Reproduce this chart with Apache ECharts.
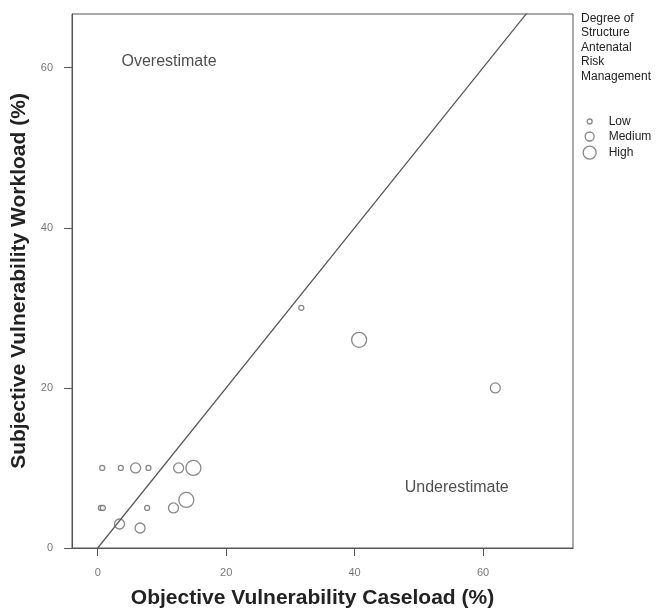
<!DOCTYPE html>
<html>
<head>
    <meta charset="UTF-8">
    <title>Subjective vs Objective Vulnerability</title>
    <script src="https://cdn.jsdelivr.net/npm/echarts/dist/echarts.min.js"></script>
    <style>
        html, body { margin: 0; padding: 0; background: #fff; }
        #chart { width: 667px; height: 609px; }
    </style>
</head>
<body>
    <div id="chart"></div>
    <script>
        // data: [objective caseload %, subjective workload %]
        var lowPoints = [[0.7, 10], [3.6, 10], [7.9, 10], [0.5, 5], [0.8, 5], [7.7, 5], [31.7, 30]];
        var mediumPoints = [[5.9, 10], [12.6, 10], [11.8, 5], [3.4, 3], [6.6, 2.5], [61.9, 20]];
        var highPoints = [[14.9, 10], [13.8, 6], [40.7, 26]];
        var refLine = [[0, 0], [80, 80]];
        var xTicks = [0, 20, 40, 60];
        var yTicks = [0, 20, 40, 60];
        var labelsOver = [[3.7, 60.8, 'Overestimate']];
        var labelsUnder = [[47.8, 7.5, 'Underestimate']];

        var font = '"Liberation Sans", Arial, sans-serif';
        var ring = { color: '#fff', borderColor: '#6a6a6a', borderWidth: 1.3 };

        var chart = echarts.init(document.getElementById('chart'));

        // one legend per size class so every icon keeps its own size
        function legendFor(name, size, top) {
            return {
                data: [name],
                left: 589 - size / 2,
                top: top - size / 2,
                padding: 0,
                itemWidth: size,
                itemHeight: size,
                icon: 'circle',
                itemStyle: ring,
                selectedMode: false,
                textStyle: {
                    fontFamily: font, fontSize: 12, color: '#222',
                    padding: [0, 0, 0, 14 - size / 2]
                }
            };
        }

        var option = {
            animation: false,
            title: {
                text: 'Degree of\nStructure\nAntenatal\nRisk\nManagement',
                left: 581,
                top: 11,
                padding: 0,
                textStyle: {
                    fontFamily: font, fontSize: 12, fontWeight: 'normal',
                    color: '#222', lineHeight: 14.5
                }
            },
            legend: [
                legendFor('Low', 5, 118),
                legendFor('Medium', 9, 135),
                legendFor('High', 13, 152)
            ],
            grid: {
                left: 72, right: 94, top: 14, bottom: 61,
                outerBoundsMode: 'none',
                show: true, borderColor: '#555', borderWidth: 1
            },
            xAxis: {
                type: 'value',
                min: -4,
                max: 74,
                name: 'Objective Vulnerability Caseload (%)',
                nameLocation: 'middle',
                nameGap: 40,
                nameTextStyle: {
                    fontFamily: font, fontSize: 21, fontWeight: 'bold', color: '#222',
                    padding: [0, 20, 0, 0]
                },
                axisLine: { show: true, onZero: false, lineStyle: { color: '#555' } },
                axisTick: { show: true, length: 8, customValues: xTicks, lineStyle: { color: '#555' } },
                axisLabel: { customValues: xTicks, margin: 19, fontFamily: font, fontSize: 11, color: '#777' },
                splitLine: { show: false }
            },
            yAxis: {
                type: 'value',
                min: 0,
                max: 66.7,
                name: 'Subjective Vulnerability Workload (%)',
                nameLocation: 'middle',
                nameGap: 42,
                nameTextStyle: { fontFamily: font, fontSize: 21, fontWeight: 'bold', color: '#222' },
                axisLine: { show: true, onZero: false, lineStyle: { color: '#555' } },
                axisTick: { show: true, length: 8, customValues: yTicks, lineStyle: { color: '#555' } },
                axisLabel: { customValues: yTicks, margin: 19, fontFamily: font, fontSize: 11, color: '#777' },
                splitLine: { show: false }
            },
            series: [
                {
                    type: 'line',
                    data: refLine,
                    symbol: 'none',
                    silent: true,
                    clip: true,
                    lineStyle: { color: '#555', width: 1.2 }
                },
                {
                    name: 'Low', type: 'scatter', data: lowPoints,
                    symbol: 'circle', symbolSize: 5, itemStyle: ring
                },
                {
                    name: 'Medium', type: 'scatter', data: mediumPoints,
                    symbol: 'circle', symbolSize: 10, itemStyle: ring
                },
                {
                    name: 'High', type: 'scatter', data: highPoints,
                    symbol: 'circle', symbolSize: 15, itemStyle: ring
                },
                {
                    type: 'scatter', data: labelsOver.concat(labelsUnder), symbolSize: 0, silent: true,
                    label: {
                        show: true, position: 'right', distance: 0,
                        formatter: function (p) { return p.data[2]; },
                        fontFamily: font, fontSize: 16, color: '#222'
                    }
                }
            ]
        };

        chart.setOption(option);
    </script>
</body>
</html>
